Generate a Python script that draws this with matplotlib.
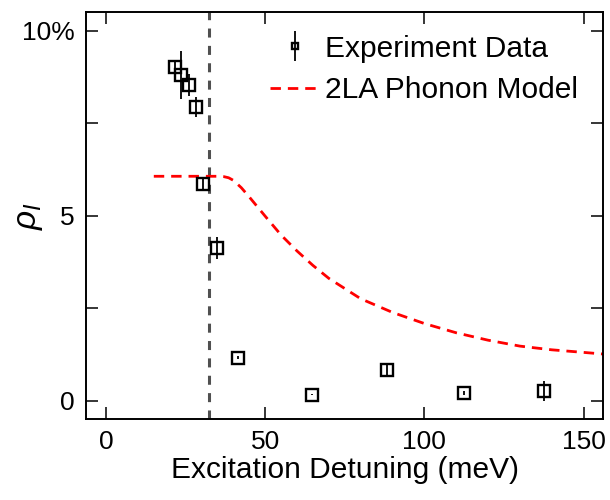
import matplotlib
matplotlib.use("Agg")
import matplotlib.pyplot as plt
import numpy as np

plt.rcParams['font.family'] = ['Liberation Sans', 'DejaVu Sans']
plt.rcParams['mathtext.fontset'] = 'custom'
plt.rcParams['mathtext.it'] = 'Liberation Sans:italic'
plt.rcParams['mathtext.rm'] = 'Liberation Sans'
plt.rcParams['lines.scale_dashes'] = False

# Experimental data
exp_x = [21.6, 23.6, 26.0, 28.3, 30.4, 34.9, 41.5, 64.6, 88.1, 112.5, 137.6]
exp_y = [9.01, 8.80, 8.53, 7.93, 5.84, 4.12, 1.16, 0.16, 0.83, 0.21, 0.25]
exp_err = [0.2, 0.65, 0.3, 0.27, 0.15, 0.3, 0.05, 0.02, 0.15, 0.05, 0.27]

# 2LA phonon model curve
model_x = [15, 20, 25, 30, 35, 37, 38.5, 40, 42.5, 45, 50, 55, 60, 65, 70, 80, 90,
           100, 110, 120, 130, 140, 150, 157]
model_y = [6.06, 6.06, 6.06, 6.06, 6.06, 6.05, 6.02, 5.95, 5.75, 5.5, 4.98, 4.47,
           4.04, 3.65, 3.3, 2.75, 2.38, 2.08, 1.83, 1.63, 1.47, 1.37, 1.3, 1.25]

# Threshold line
threshold_x = 32.2

xticks = [0, 50, 100, 150]
yticks = [0, 2.5, 5, 7.5, 10]
ytick_labels = ['0', '', '5', '', '10%']

fig = plt.figure(figsize=(6.1, 5.0), dpi=100)
ax = fig.add_axes([86/610, 1-419/500, (603.3-86)/610, (419-12)/500])

ax.axvline(threshold_x, color='#505050', lw=2.2, ls=(0, (6.5, 6.0)), zorder=1)
model_line, = ax.plot(model_x, model_y, color='#ff0000', lw=2.0, ls=(0, (7.5, 5.0)),
                      label='2LA Phonon Model', zorder=2)
eb = ax.errorbar(exp_x, exp_y, yerr=exp_err, fmt='s', mfc='none', mec='black',
                 ms=9.3, mew=1.7, ecolor='black', elinewidth=1.3, capsize=0,
                 label='Experiment Data', zorder=3)

ax.set_xlim(-6.3, 156.2)
ax.set_ylim(-0.5, 10.5)
ax.set_xticks(xticks)
ax.set_yticks(yticks)
ax.set_yticklabels(ytick_labels)

ax.tick_params(direction='in', length=8.6, width=1.1, labelsize=19, pad=8,
               top=True, right=True)
for s in ax.spines.values():
    s.set_linewidth(1.4)

ax.set_xlabel('Excitation Detuning (meV)', fontsize=21.5, labelpad=1)
ax.set_ylabel(r'$\rho_I$', fontsize=24)
ax.yaxis.set_label_coords(-0.08, 0.5)

ax.legend([eb, model_line], ['Experiment Data', '2LA Phonon Model'],
          loc='upper left', bbox_to_anchor=(0.3035, 1.01), frameon=False,
          fontsize=21.5, handlelength=1.7, handletextpad=0.15, markerscale=0.5,
          labelspacing=0.45)

fig.savefig('out.png', dpi=100)
